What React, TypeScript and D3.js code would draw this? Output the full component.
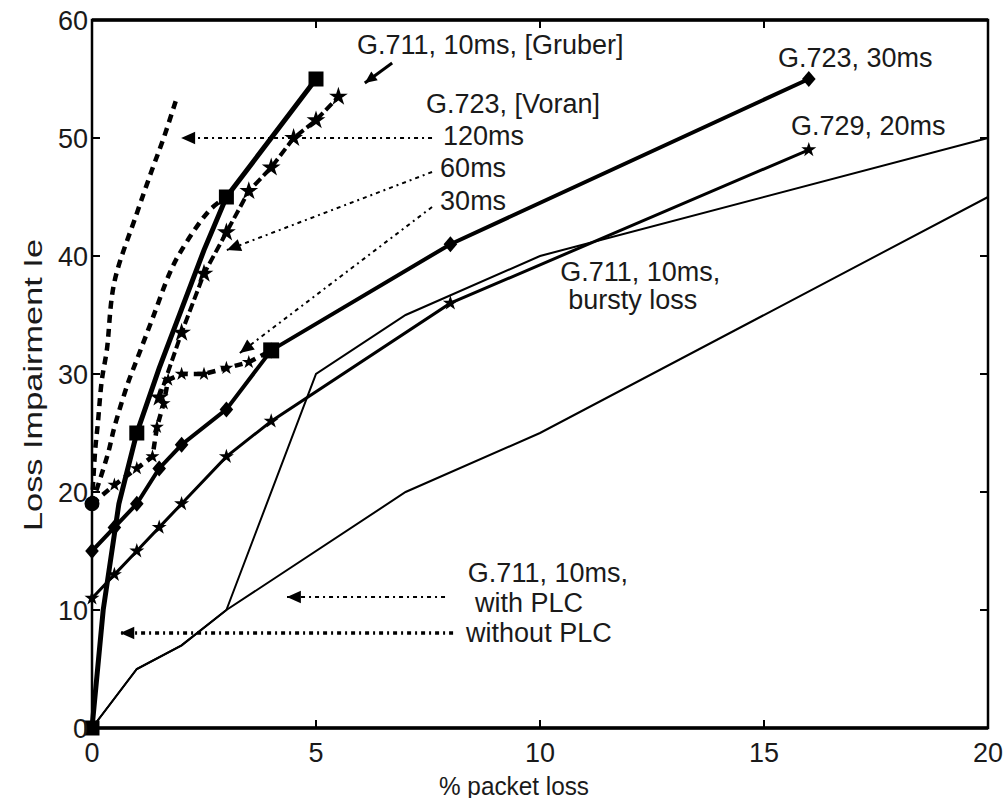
import React from "react";
import * as d3 from "d3";

// ---------- data ----------
const xTicks = [0, 5, 10, 15, 20];
const yTicks = [0, 10, 20, 30, 40, 50, 60];

// G.711 10ms without PLC (thick solid, squares)
const noPlcX = [0, 0.25, 0.6, 1, 1.5, 2, 2.5, 3, 4, 5];
const noPlcY = [0, 10, 19, 25, 30.5, 35.5, 40.5, 45, 50, 55];
const noPlcMarkX = [0, 1, 3, 5];
const noPlcMarkY = [0, 25, 45, 55];

// G.711 10ms [Gruber] (dashed, stars)
const gruberX = [1.5, 2, 2.5, 3, 3.5, 4, 4.5, 5, 5.5];
const gruberY = [28, 33.5, 38.5, 42, 45.5, 47.5, 50, 51.5, 53.5];

// G.723 [Voran] 120ms / 60ms / 30ms (dashed)
const voran120X = [0, 0.07, 0.13, 0.22, 0.33, 0.5, 1, 1.34, 1.6, 1.9];
const voran120Y = [19, 23.5, 25.8, 29.5, 32, 37.8, 43.6, 47.3, 50, 53.5];
const voran60X = [0, 0.36, 0.5, 0.8, 1, 1.36, 1.74, 2, 2.63, 3];
const voran60Y = [19, 23.3, 25.5, 29.2, 31.2, 34.8, 38.6, 40.5, 43.9, 45];
const voran30X = [0, 0.5, 1, 1.35, 1.45, 1.6, 1.7, 2, 2.5, 3, 3.5, 4];
const voran30Y = [19, 20.6, 22, 23, 25.5, 27.5, 29.5, 30, 30, 30.5, 31, 32];

// G.723 30ms (thick, diamonds)
const g723X = [0, 0.5, 1, 1.5, 2, 3, 4, 8, 16];
const g723Y = [15, 17, 19, 22, 24, 27, 32, 41, 55];

// G.729 20ms
const g729X = [0, 0.5, 1, 1.5, 2, 3, 4, 8, 16];
const g729Y = [11, 13, 15, 17, 19, 23, 26, 36, 49];

// G.711 10ms with PLC (thin)
const plcX = [0, 1, 2, 3, 7, 10, 20];
const plcY = [0, 5, 7, 10, 20, 25, 45];

// G.711 10ms bursty loss (thin)
const burstX = [0, 1, 2, 3, 5, 7, 10, 20];
const burstY = [0, 5, 7, 10, 30, 35, 40, 50];

// annotations (data coordinates)
const labelText = [
  "G.711, 10ms, [Gruber]",
  "G.723, [Voran]",
  "120ms",
  "60ms",
  "30ms",
  "G.723, 30ms",
  "G.729, 20ms",
  "G.711, 10ms,",
  "bursty loss",
  "G.711, 10ms,",
  "with PLC",
  "without PLC",
];
const labelX = [5.915, 7.455, 7.835, 7.77, 7.77, 15.31, 15.6, 10.45, 10.63, 8.39, 8.55, 8.35];
const labelY = [57.12, 52.12, 49.41, 46.69, 43.9, 56.02, 50.25, 37.85, 35.5, 12.37, 9.83, 7.29];

// arrows: from -> to
const arrowX0 = [7.59, 7.59, 7.59, 7.88, 8.06];
const arrowY0 = [50, 47.12, 44.15, 11.1, 8.05];
const arrowX1 = [1.99, 3.01, 3.3, 4.35, 0.63];
const arrowY1 = [50, 40.5, 31.78, 11.1, 8.05];
const arrowW = [2, 2, 2, 2, 3.5];

const W = 1006;
const H = 798;
const FONT = "'Liberation Sans', Arial, Helvetica, sans-serif";

export default function App() {
  const x = d3.scaleLinear().domain([0, 20]).range([92, 988]);
  const y = d3.scaleLinear().domain([0, 60]).range([728, 20]);

  const pts = (xs: number[], ys: number[]) => xs.map((v, i) => [v, ys[i]] as [number, number]);
  const line = d3
    .line<[number, number]>()
    .x((d) => x(d[0]))
    .y((d) => y(d[1]));
  const smooth = d3
    .line<[number, number]>()
    .x((d) => x(d[0]))
    .y((d) => y(d[1]))
    .curve(d3.curveCatmullRom.alpha(0.5));

  const star = d3.symbol().type(d3.symbolStar);
  const diamond = (s: number) => `M0,${-s}L${s * 0.85},0L0,${s}L${-s * 0.85},0Z`;

  const ink = "#000";
  const txt = "#1a1a1a";

  const arrowHead = (x0: number, y0: number, x1: number, y1: number, size: number) => {
    const a = Math.atan2(y1 - y0, x1 - x0);
    const p1 = [x1 - size * Math.cos(a) + size * 0.45 * Math.sin(a), y1 - size * Math.sin(a) - size * 0.45 * Math.cos(a)];
    const p2 = [x1 - size * Math.cos(a) - size * 0.45 * Math.sin(a), y1 - size * Math.sin(a) + size * 0.45 * Math.cos(a)];
    return `M${x1},${y1}L${p1[0]},${p1[1]}L${p2[0]},${p2[1]}Z`;
  };

  return (
    <svg
      width={W}
      height={H}
      style={{ position: "absolute", left: 0, top: 0, background: "#fff" }}
      fontFamily={FONT}
    >
      <rect x={0} y={0} width={W} height={H} fill="#fff" />

      {/* thin lines */}
      <path d={line(pts(plcX, plcY)) || ""} fill="none" stroke={ink} strokeWidth={2} />
      <path d={line(pts(burstX, burstY)) || ""} fill="none" stroke={ink} strokeWidth={2} />

      {/* G.729 */}
      <path d={line(pts(g729X, g729Y)) || ""} fill="none" stroke={ink} strokeWidth={3} />
      {pts(g729X, g729Y).map((d, i) => (
        <path key={"g729" + i} transform={`translate(${x(d[0])},${y(d[1])})`} d={star.size(70)() || ""} fill={ink} />
      ))}

      {/* G.723 30ms */}
      <path d={line(pts(g723X, g723Y)) || ""} fill="none" stroke={ink} strokeWidth={4} />
      {pts(g723X, g723Y).map((d, i) => (
        <path key={"g723" + i} transform={`translate(${x(d[0])},${y(d[1])})`} d={diamond(8)} fill={ink} />
      ))}

      {/* Voran */}
      <path d={smooth(pts(voran120X, voran120Y)) || ""} fill="none" stroke={ink} strokeWidth={4.5} strokeDasharray="8 6" />
      <path d={smooth(pts(voran60X, voran60Y)) || ""} fill="none" stroke={ink} strokeWidth={4.5} strokeDasharray="8 6" />
      <path d={line(pts(voran30X, voran30Y)) || ""} fill="none" stroke={ink} strokeWidth={4.5} strokeDasharray="8 6" />
      {pts(voran30X, voran30Y).slice(1, -1).map((d, i) => (
        <path key={"v30" + i} transform={`translate(${x(d[0])},${y(d[1])})`} d={star.size(60)() || ""} fill={ink} />
      ))}
      <circle cx={x(voran120X[0])} cy={y(voran120Y[0])} r={7.5} fill={ink} />
      <rect
        x={x(voran30X[voran30X.length - 1]) - 8}
        y={y(voran30Y[voran30Y.length - 1]) - 8}
        width={16}
        height={16}
        fill={ink}
      />

      {/* Gruber */}
      <path d={line(pts(gruberX, gruberY)) || ""} fill="none" stroke={ink} strokeWidth={4} strokeDasharray="9 4" />
      {pts(gruberX, gruberY).map((d, i) => (
        <path key={"gr" + i} transform={`translate(${x(d[0])},${y(d[1])})`} d={star.size(110)() || ""} fill={ink} />
      ))}

      {/* without PLC */}
      <path d={line(pts(noPlcX, noPlcY)) || ""} fill="none" stroke={ink} strokeWidth={5} />
      {pts(noPlcMarkX, noPlcMarkY).map((d, i) => (
        <rect key={"sq" + i} x={x(d[0]) - 7.5} y={y(d[1]) - 7.5} width={15} height={15} fill={ink} />
      ))}

      {/* arrows */}
      {arrowX0.map((_, i) => {
        const x0 = x(arrowX0[i]);
        const y0 = y(arrowY0[i]);
        const x1 = x(arrowX1[i]);
        const y1 = y(arrowY1[i]);
        return (
          <g key={"ar" + i}>
            <line x1={x0} y1={y0} x2={x1} y2={y1} stroke={ink} strokeWidth={arrowW[i]} strokeDasharray="4 4 2 4" />
            <path d={arrowHead(x0, y0, x1, y1, 14)} fill={ink} />
          </g>
        );
      })}
      {/* Gruber arrow */}
      <line x1={x(6.7)} y1={y(56.36)} x2={x(6.09)} y2={y(54.66)} stroke={ink} strokeWidth={3} />
      <path d={arrowHead(x(6.7), y(56.36), x(6.09), y(54.66), 12)} fill={ink} />

      {/* annotation labels */}
      {labelText.map((t, i) => (
        <text key={"lb" + i} x={x(labelX[i])} y={y(labelY[i])} fontSize={27} fill={txt}>
          {t}
        </text>
      ))}

      {/* frame */}
      <rect x={x(0)} y={y(60)} width={x(20) - x(0)} height={y(0) - y(60)} fill="none" stroke={ink} strokeWidth={2.5} />
      <line x1={x(0)} x2={x(20)} y1={y(0)} y2={y(0)} stroke={ink} strokeWidth={3.5} />
      <line x1={x(0)} x2={x(20)} y1={y(60)} y2={y(60)} stroke={ink} strokeWidth={3.5} />
      {xTicks.map((t) => (
        <g key={"xt" + t}>
          <line x1={x(t)} x2={x(t)} y1={y(0)} y2={y(0) - 8} stroke={ink} strokeWidth={2} />
          <line x1={x(t)} x2={x(t)} y1={y(60)} y2={y(60) + 8} stroke={ink} strokeWidth={2} />
          <text x={x(t)} y={762} fontSize={27} textAnchor="middle" fill={txt}>
            {t}
          </text>
        </g>
      ))}
      {yTicks.map((t) => (
        <g key={"yt" + t}>
          <line x1={x(0)} x2={x(0) + 8} y1={y(t)} y2={y(t)} stroke={ink} strokeWidth={2} />
          <line x1={x(20)} x2={x(20) - 8} y1={y(t)} y2={y(t)} stroke={ink} strokeWidth={2} />
          <text x={88} y={y(t)} dy="0.36em" fontSize={27} textAnchor="end" fill={txt}>
            {t}
          </text>
        </g>
      ))}
      <text x={514} y={795} fontSize={26} textAnchor="middle" fill={txt} textLength={150} lengthAdjust="spacingAndGlyphs">
        % packet loss
      </text>
      <text
        transform={`translate(42,${385}) rotate(-90)`}
        fontSize={26}
        textAnchor="middle"
        fill={txt}
        textLength={292}
        lengthAdjust="spacingAndGlyphs"
      >
        Loss Impairment Ie
      </text>
    </svg>
  );
}
